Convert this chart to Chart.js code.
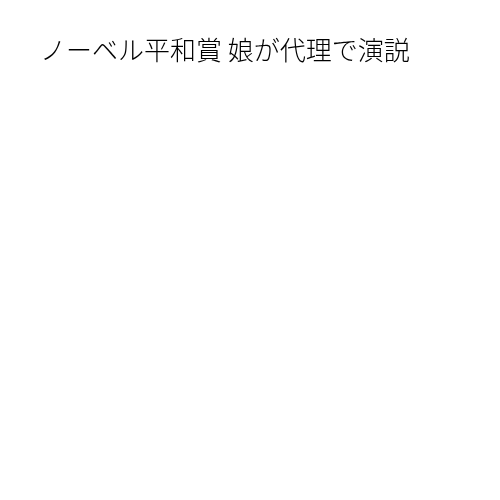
<!DOCTYPE html>
<html>
<head>
<meta charset="utf-8">
<script src="https://cdn.jsdelivr.net/npm/chart.js@4"></script>
<style>
    html, body { margin: 0; padding: 0; background: #fff; }
    #wrap { width: 500px; height: 500px; }
</style>
</head>
<body>
<div id="wrap"><canvas id="myChart"></canvas></div>
<script>
// the reference shows only the title, no marks at all
const chartTitle = 'ノーベル平和賞 娘が代理で演説';
const categories = [];
const seriesValues = [];

const ctx = document.getElementById('myChart').getContext('2d');
const myChart = new Chart(ctx, {
    type: 'bar',
    data: {
        labels: categories,
        datasets: [{
            label: chartTitle,
            data: seriesValues,
            backgroundColor: '#4472c4'
        }]
    },
    options: {
        responsive: true,
        maintainAspectRatio: false,
        animation: false,
        layout: {
            padding: { left: 40, right: 20, top: 0, bottom: 20 }
        },
        plugins: {
            legend: { display: false },
            tooltip: { enabled: false },
            title: {
                display: true,
                text: chartTitle,
                align: 'start',
                color: '#000',
                font: {
                    family: '"Noto Sans CJK JP", sans-serif',
                    size: 26,
                    weight: '300'
                },
                padding: { top: 35, bottom: 10 }
            }
        },
        scales: {
            x: { display: false },
            y: { display: false }
        }
    }
});
</script>
</body>
</html>
